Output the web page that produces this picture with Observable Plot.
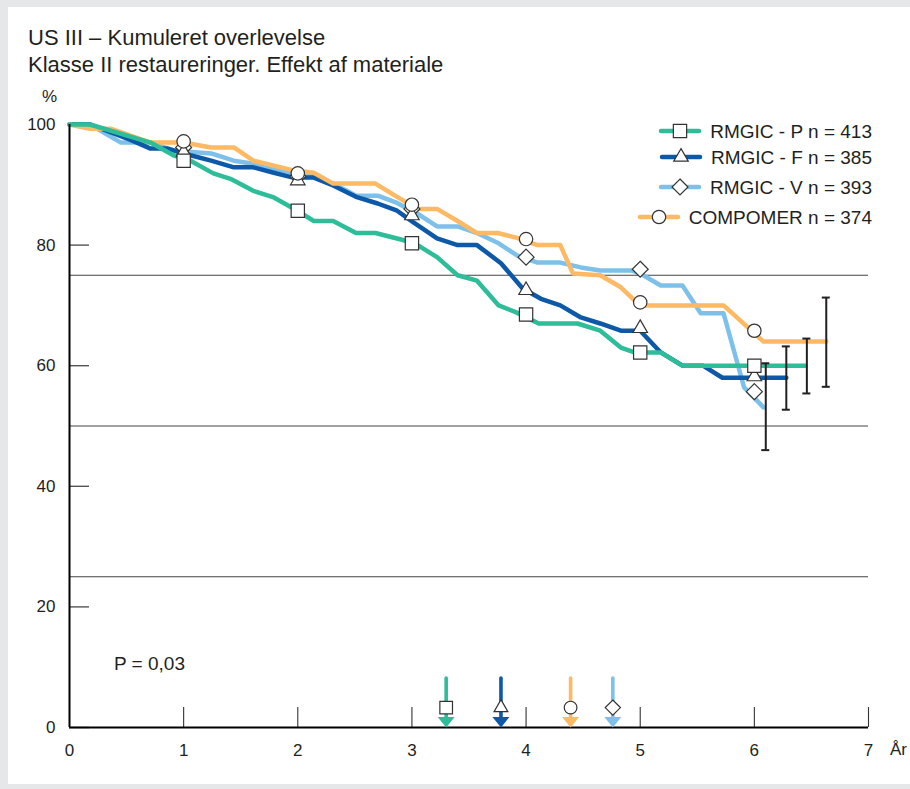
<!DOCTYPE html>
<html><head><meta charset="utf-8">
<script src="https://cdn.jsdelivr.net/npm/d3@7"></script>
<script src="https://cdn.jsdelivr.net/npm/@observablehq/plot@0.6"></script>
<style>
html,body{margin:0;padding:0;}
body{background:#e6e7e9;width:910px;height:789px;position:relative;overflow:hidden;font-family:"Liberation Sans",Arial,Helvetica,sans-serif;color:#231f20;}
#panel{position:absolute;left:8px;top:7px;width:902px;height:777px;background:#fff;}
.abs{position:absolute;white-space:nowrap;}
#title{left:28px;top:24px;font-size:22px;line-height:27px;}
#chart{position:absolute;left:0;top:80px;}
#pct{left:0;width:57px;text-align:right;top:88px;font-size:17px;line-height:17px;}
#aar{left:890px;top:741px;font-size:17px;line-height:17px;}
#pval{left:114px;top:654px;font-size:19px;line-height:19px;}
.lrow{position:absolute;right:38px;height:24px;display:flex;align-items:center;font-size:19px;line-height:19px;white-space:nowrap;}
.lrow svg{margin-right:8px;}
</style></head><body>
<div id="panel"></div>
<div id="title" class="abs">US III – Kumuleret overlevelse<br>Klasse II restaureringer. Effekt af materiale</div>
<div id="chart"></div>
<div id="pct" class="abs">%</div>
<div id="aar" class="abs">År</div>
<div id="pval" class="abs">P = 0,03</div>
<div id="legend"></div>
<script>
// ---- data ----
const seriesNames = ["RMGIC - P n = 413", "RMGIC - F n = 385", "RMGIC - V n = 393", "COMPOMER n = 374"];
const seriesKeys = ["P", "F", "V", "C"];

const pT = [0, 0.18, 0.71, 0.91, 1.06, 1.26, 1.41, 1.61, 1.79, 1.97, 2.14, 2.31, 2.51, 2.68, 2.93, 3.05, 3.22, 3.40, 3.57, 3.76, 3.92, 4.11, 4.45, 4.65, 4.83, 4.95, 5.18, 5.37, 6.45];
const pV = [100, 100, 97, 94.9, 94, 91.9, 91, 89, 87.9, 86, 84, 84, 82, 82, 80.8, 80, 78, 75, 74.1, 70, 68.8, 67, 67, 65.8, 63, 62.2, 62.2, 60, 60];

const fT = [0, 0.18, 0.53, 0.71, 0.86, 1.06, 1.24, 1.44, 1.61, 1.79, 1.96, 2.14, 2.31, 2.51, 2.70, 2.87, 3.01, 3.22, 3.40, 3.57, 3.78, 3.97, 4.13, 4.30, 4.48, 4.65, 4.83, 5.0, 5.18, 5.37, 5.55, 5.72, 6.28];
const fV = [100, 100, 97.5, 96, 96, 94.9, 94, 92.9, 92.9, 92, 91.2, 91.2, 89.9, 88, 86.9, 85.7, 83.8, 81.1, 80, 80, 77, 72.8, 71.1, 70, 68, 67, 65.8, 65.8, 62.2, 60, 60, 58, 58];

const vT = [0, 0.18, 0.45, 0.71, 0.91, 1.24, 1.44, 1.61, 1.96, 2.14, 2.31, 2.51, 2.70, 2.87, 3.05, 3.22, 3.40, 3.57, 3.75, 3.92, 4.10, 4.30, 4.48, 4.65, 4.92, 5.0, 5.18, 5.37, 5.53, 5.73, 5.91, 6.08];
const vV = [100, 100, 97, 97, 95.7, 95.2, 94, 93.5, 92, 91.5, 90.2, 88.2, 88.2, 87, 85.2, 83.1, 83.1, 82, 80.4, 78.3, 77.1, 77.1, 76.3, 75.8, 75.8, 75.3, 73.3, 73.3, 68.7, 68.7, 56.4, 53.1];

const cT = [0, 0.18, 0.36, 0.71, 1.0, 1.24, 1.44, 1.61, 1.96, 2.14, 2.31, 2.68, 2.87, 3.05, 3.22, 3.40, 3.57, 3.75, 3.92, 4.10, 4.30, 4.41, 4.65, 4.83, 4.98, 5.03, 5.73, 6.08, 6.63];
const cV = [100, 99.3, 99.3, 97, 97, 96.2, 96.2, 94, 92.4, 92, 90.2, 90.2, 88, 86, 86, 84, 82, 82, 81.2, 80, 80, 75.3, 75, 73, 70.3, 70, 70, 64, 64];

const markerYears = [1, 2, 3, 4, 5, 6];
const pMark = [94, 85.7, 80.3, 68.5, 62.2, 60];
const fMark = [95.4, 90.7, 84.9, 72.5, 66.2, 58.2];
const vMark = [96.2, 91.4, 86, 78, 76, 55.7];
const cMark = [97.2, 91.9, 86.7, 81, 70.5, 65.8];

// error bars at the end of each curve: V, F, P, C
const barKeys = ["V", "F", "P", "C"];
const barT = [6.10, 6.28, 6.46, 6.63];
const barLo = [46, 52.7, 55.4, 56.5];
const barHi = [60.4, 63.2, 64.5, 71.3];

// arrows near the x axis: P, F, C, V
const arrowKeys = ["P", "F", "C", "V"];
const arrowT = [3.30, 3.78, 4.39, 4.76];
const arrowTop = 8.1;
const arrowSymbolLevel = 3.3;

const xTicks = [0, 1, 2, 3, 4, 5, 6, 7];
const yTicks = [0, 20, 40, 60, 80, 100];
const gridLevels = [25, 50, 75];

// ---- styles ----
const colors = {P: "#2dbd98", F: "#0d59a7", V: "#7dc1ea", C: "#fdb964"};
const symbols = {P: "square", F: "triangle", V: "diamond2", C: "circle"};
const radii = {P: 7.5, F: 5.4, V: 7.2, C: 6.7};
const markStroke = "#333";

const lines = {P: [pT, pV], F: [fT, fV], V: [vT, vV], C: [cT, cV]};
const marks = {P: pMark, F: fMark, V: vMark, C: cMark};
const drawOrder = ["V", "F", "C", "P"];

const lineData = k => lines[k][0].map((t, i) => ({t, v: lines[k][1][i]}));
const markData = k => markerYears.map((t, i) => ({t, v: marks[k][i]}));
const bars = barKeys.map((k, i) => ({k, t: barT[i], lo: barLo[i], hi: barHi[i]}));
const arrows = arrowKeys.map((k, i) => ({k, t: arrowT[i]}));

const arrowHead = {
  draw(ctx, size) {
    const r = Math.sqrt(size / Math.PI);
    ctx.moveTo(-r, -1.25 * r);
    ctx.lineTo(r, -1.25 * r);
    ctx.lineTo(0, 0);
    ctx.closePath();
  }
};

const W = 910, H = 700, mL = 69, mR = 42, mT = 44, mB = 53;
const frameW = W - mL - mR, frameH = H - mT - mB;

const plot = Plot.plot({
  width: W, height: H,
  marginLeft: mL, marginRight: mR, marginTop: mT, marginBottom: mB,
  x: {domain: [0, 7]},
  y: {domain: [0, 100]},
  style: {background: "transparent", fontFamily: "Liberation Sans, Arial, sans-serif", color: "#231f20", overflow: "visible"},
  marks: [
    Plot.ruleY(gridLevels, {stroke: "#444", strokeWidth: 1.2}),
    Plot.tickY(yTicks, {y: d => d, insetRight: frameW - 20, stroke: "#555", strokeWidth: 1.4}),
    Plot.tickX(xTicks.filter(d => d > 0), {x: d => d, insetTop: frameH - 20, stroke: "#333", strokeWidth: 1.1}),
    ...drawOrder.map(k => Plot.line(lineData(k), {x: "t", y: "v", stroke: colors[k], strokeWidth: 4.5})),
    Plot.ruleX(bars, {x: "t", y1: "lo", y2: "hi", stroke: "#231f20", strokeWidth: 2}),
    Plot.ruleY(bars, {y: "lo", x1: "t", x2: "t", insetLeft: -4, insetRight: -4, stroke: "#231f20", strokeWidth: 2}),
    Plot.ruleY(bars, {y: "hi", x1: "t", x2: "t", insetLeft: -4, insetRight: -4, stroke: "#231f20", strokeWidth: 2}),
    Plot.ruleX([0], {stroke: "#000", strokeWidth: 2}),
    Plot.ruleY([0], {stroke: "#000", strokeWidth: 2}),
    ...drawOrder.map(k => Plot.dot(markData(k), {x: "t", y: "v", symbol: symbols[k], r: radii[k], fill: "white", stroke: markStroke, strokeWidth: 1.2})),
    Plot.ruleX(arrows, {x: "t", y1: 1.2, y2: arrowTop, stroke: d => colors[d.k], strokeWidth: 3.6, strokeLinecap: "round"}),
    Plot.dot(arrows, {x: "t", y: 0, symbol: arrowHead, r: 8.5, fill: d => colors[d.k], stroke: "none"}),
    ...arrowKeys.map(k => Plot.dot(arrows.filter(d => d.k === k), {x: "t", y: arrowSymbolLevel, symbol: symbols[k], r: radii[k] * 0.95, fill: "white", stroke: markStroke, strokeWidth: 1.2})),
    Plot.axisY(yTicks, {tickSize: 0, tickPadding: 14, fontSize: 17, label: null}),
    Plot.axisX(xTicks, {tickSize: 0, tickPadding: 16, fontSize: 17, label: null, tickFormat: d => String(d)})
  ]
});
document.getElementById("chart").appendChild(plot);

// ---- legend ----
const legendTops = [119, 145, 175, 205];
const legend = document.getElementById("legend");
seriesKeys.forEach((k, i) => {
  const row = document.createElement("div");
  row.className = "lrow abs";
  row.style.top = legendTops[i] + "px";
  const svg = d3.create("svg").attr("width", 44).attr("height", 20);
  svg.append("line").attr("x1", 3).attr("x2", 41).attr("y1", 10).attr("y2", 10)
    .attr("stroke", colors[k]).attr("stroke-width", 4.5).attr("stroke-linecap", "round");
  const symMap = {square: d3.symbolSquare, triangle: d3.symbolTriangle, diamond2: d3.symbolDiamond2, circle: d3.symbolCircle};
  svg.append("path").attr("transform", "translate(22,10)")
    .attr("d", d3.symbol(symMap[symbols[k]], Math.PI * radii[k] * radii[k])())
    .attr("fill", "white").attr("stroke", markStroke).attr("stroke-width", 1.2);
  row.appendChild(svg.node());
  const span = document.createElement("span");
  span.textContent = seriesNames[i];
  row.appendChild(span);
  legend.appendChild(row);
});
</script>
</body></html>
